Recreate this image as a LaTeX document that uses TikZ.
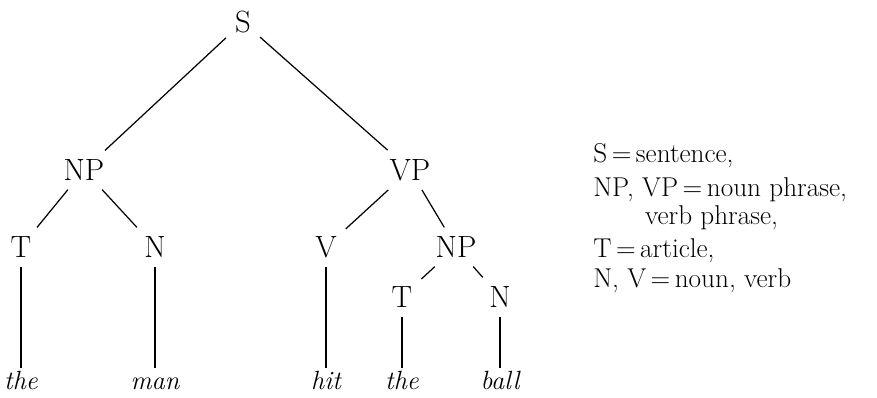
\documentclass[tikz,border=0pt]{standalone}
\usepackage{tikz}

\begin{document}
\begin{tikzpicture}[x=0.02cm,y=-0.02cm]
       \tikzstyle{every node}=[font=\fontsize{17.5}{20}\selectfont, inner sep=5pt]
       \tikzstyle{word}=[font=\fontsize{15}{18}\selectfont\itshape,
                         text height=1.9ex, text depth=0.2ex, inner sep=4pt]
       \useasboundingbox (0,0) rectangle (877,398);

       % tree
       \node (S)   at (243,22)  {S};
       \node (NP)  at (84,170)  {NP};
       \node (VP)  at (410,170) {VP};
       \node (T)   at (21,247)  {T};
       \node (N)   at (155,247) {N};
       \node (V)   at (326,247) {V};
       \node (NP2) at (456,247) {NP};
       \node (T2)  at (402,297) {T};
       \node (N2)  at (500,297) {N};

       \node[word] (the)  at (21,383)  {the};
       \node[word] (man)  at (155,383) {man};
       \node[word] (hit)  at (326,383) {hit};
       \node[word] (the2) at (402,383) {the};
       \node[word] (ball) at (500,383) {ball};

       \path[draw, line width=0.7pt]
       (S)   edge (NP)
             edge (VP)
       (NP)  edge (T)
             edge (N)
       (VP)  edge (V)
             edge (NP2)
       (NP2) edge (T2)
             edge (N2)
       (T)   edge (the)
       (N)   edge (man)
       (V)   edge (hit)
       (T2)  edge (the2)
       (N2)  edge (ball);

       % key
       \node[anchor=north west, align=left, inner sep=0pt,
             font=\fontsize{15.5}{17}\selectfont] (key) at (593,143)
       {S\,=\,sentence,\\[2.5pt]
        NP, VP\,=\,noun phrase,\\[-1pt]
        \hspace{1.9em}verb phrase,\\[1.5pt]
        T\,=\,article,\\[0pt]
        N, V\,=\,noun, verb};
\end{tikzpicture}
\end{document}
